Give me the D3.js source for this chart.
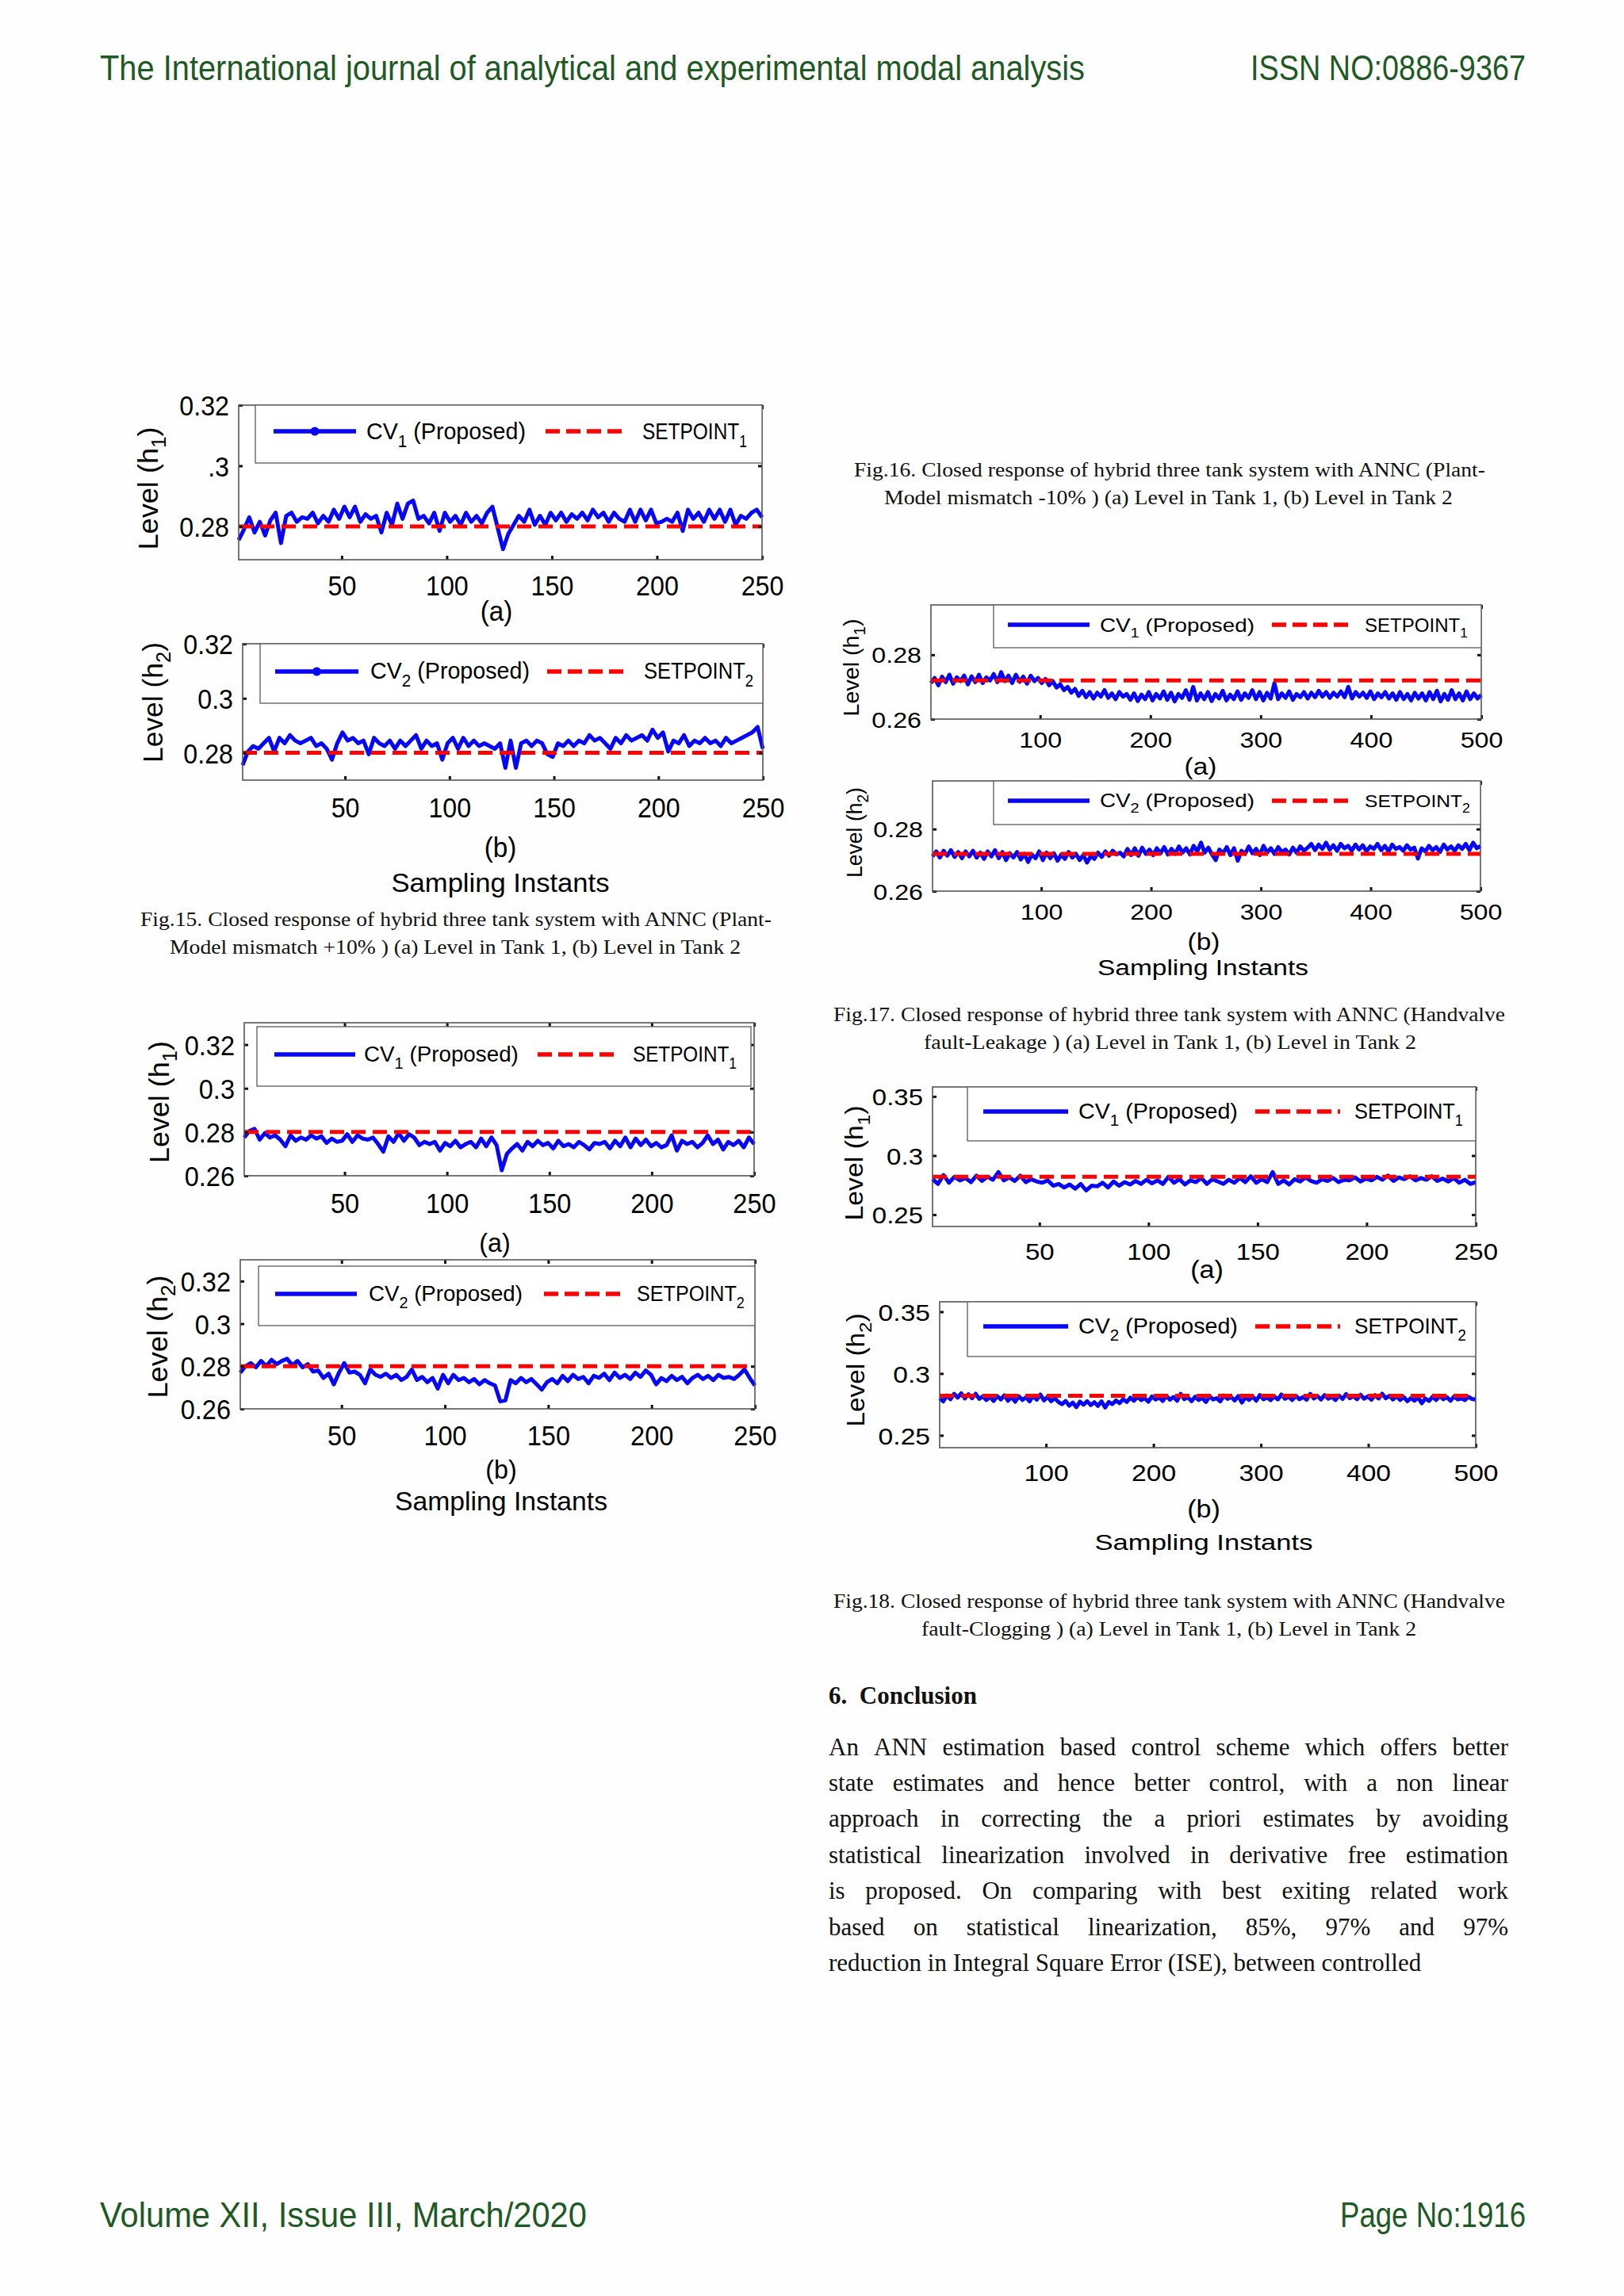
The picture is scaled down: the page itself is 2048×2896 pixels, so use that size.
<!DOCTYPE html>
<html><head><meta charset="utf-8">
<script src="https://cdn.jsdelivr.net/npm/d3@7"></script>
<style>html,body{margin:0;padding:0;background:#fff;}svg{display:block;}</style>
</head><body>
<script>
const xTicks250 = [50, 100, 150, 200, 250];
const xTicks500 = [100, 200, 300, 400, 500];
const yTicks15a = [0.28, 0.30, 0.32];            const yTickLabels15a = ["0.28", ".3", "0.32"];
const yTicks15b = [0.28, 0.30, 0.32];            const yTickLabels15b = ["0.28", "0.3", "0.32"];
const yTicks16  = [0.26, 0.28];                  const yTickLabels16  = ["0.26", "0.28"];
const yTicks17  = [0.26, 0.28, 0.30, 0.32];      const yTickLabels17  = ["0.26", "0.28", "0.3", "0.32"];
const yTicks18  = [0.25, 0.30, 0.35];            const yTickLabels18  = ["0.25", "0.3", "0.35"];

const setpoint15 = 0.28, setpoint16 = 0.272, setpoint17 = 0.28, setpoint18 = 0.282;

// Fig.15 (+10% mismatch), 250 samples
const fig15a_cv1 = [.2755,.279,.283,.278,.2815,.277,.282,.2845,.2745,.2835,.2845,.2815,.283,.2825,.2845,.281,.2835,.2815,.2855,.2825,
 .2865,.283,.2865,.2815,.284,.2825,.2835,.278,.2845,.2805,.2875,.2825,.2875,.2885,.2825,.2835,.281,.2845,.2785,.2845,
 .2815,.2835,.2805,.2845,.2815,.2835,.281,.2845,.2865,.2795,.2725,.2775,.2805,.2835,.2815,.2855,.2805,.2835,.2805,.2845,
 .282,.2845,.2815,.284,.2825,.2845,.282,.2855,.283,.2845,.2815,.2845,.2825,.2815,.2855,.2815,.2855,.282,.2855,.281,
 .2815,.2825,.2815,.2845,.2785,.2855,.2825,.2845,.2815,.2855,.2825,.2855,.2815,.2855,.2805,.2835,.2825,.2845,.2855,.283];
const fig15b_cv2 = [.2755,.2805,.2825,.2815,.2835,.2855,.2805,.2855,.2835,.2865,.2845,.2835,.2845,.2855,.2825,.2835,.2815,.2775,.2835,.2875,
 .2845,.2855,.2835,.2845,.2795,.2855,.2835,.2825,.2845,.2815,.2845,.2825,.2845,.2865,.2815,.2845,.2825,.2835,.2775,.2835,
 .2855,.2815,.2855,.2825,.2845,.2825,.2835,.2825,.2815,.2835,.2745,.2845,.2745,.2835,.2845,.2825,.2845,.2835,.2795,.2785,
 .2835,.2825,.2845,.2825,.2845,.2835,.2865,.2845,.2855,.2835,.2815,.2855,.2835,.2865,.2845,.2855,.2865,.2845,.2885,.2855,
 .2875,.2805,.2845,.2835,.2865,.2825,.2845,.2835,.2855,.2835,.2845,.2825,.2855,.2835,.2845,.2855,.2865,.2875,.2895,.2815];

// Fig.16 (-10% mismatch), 500 samples
const fig16a_cv1 = [.2712,.2728,.2705,.2732,.2715,.2738,.2710,.2730,.2718,.2735,
 .2708,.2733,.2715,.2738,.2712,.2730,.2720,.2740,.2715,.2746,
 .2718,.2735,.2712,.2738,.2716,.2732,.2710,.2735,.2718,.2728,
 .2712,.2725,.2705,.2718,.2698,.2708,.2690,.2700,.2682,.2694,
 .2672,.2688,.2668,.2684,.2664,.2682,.2670,.2690,.2666,.2680,.2662,.2684,.2670,.2678,
 .2660,.2680,.2656,.2676,.2662,.2684,.2658,.2678,.2664,.2686,
 .2660,.2682,.2655,.2678,.2666,.2690,.2660,.2700,.2658,.2680,
 .2662,.2684,.2656,.2678,.2664,.2688,.2658,.2676,.2662,.2686,
 .2660,.2680,.2666,.2690,.2662,.2684,.2658,.2682,.2664,.2712,
 .2662,.2680,.2666,.2686,.2660,.2678,.2668,.2684,.2664,.2682,
 .2668,.2688,.2670,.2684,.2666,.2682,.2670,.2686,.2668,.2700,
 .2664,.2684,.2670,.2682,.2666,.2686,.2662,.2680,.2668,.2684,
 .2664,.2680,.2660,.2684,.2662,.2678,.2658,.2682,.2664,.2680,
 .2658,.2684,.2662,.2688,.2655,.2678,.2660,.2690,.2662,.2680,
 .2658,.2686,.2662,.2680,.2664,.2675];
const fig16b_cv2 = [.2712,.2728,.2708,.2730,.2714,.2732,.2710,.2726,.2706,.2728,
 .2712,.2730,.2708,.2724,.2704,.2728,.2712,.2732,.2706,.2726,
 .2700,.2722,.2708,.2726,.2702,.2720,.2694,.2718,.2706,.2728,
 .2700,.2724,.2706,.2722,.2698,.2718,.2704,.2726,.2708,.2720,
 .2700,.2716,.2692,.2712,.2704,.2724,.2710,.2728,.2714,.2730,.2718,
 .2724,.2712,.2736,.2716,.2738,.2714,.2740,.2720,.2734,.2716,
 .2738,.2722,.2742,.2718,.2736,.2720,.2744,.2724,.2738,.2718,
 .2746,.2728,.2756,.2724,.2740,.2718,.2700,.2734,.2722,.2742,
 .2716,.2738,.2698,.2730,.2720,.2744,.2722,.2736,.2716,.2746,
 .2724,.2738,.2720,.2742,.2726,.2734,.2718,.2740,.2724,.2744,.2730,
 .2740,.2752,.2732,.2750,.2736,.2756,.2734,.2748,.2730,.2752,
 .2738,.2746,.2730,.2750,.2734,.2748,.2728,.2744,.2736,.2752,
 .2732,.2746,.2728,.2750,.2736,.2742,.2730,.2748,.2734,.2740,
 .2705,.2738,.2728,.2746,.2732,.2742,.2726,.2750,.2734,.2744,
 .2730,.2748,.2736,.2752,.2732,.2756,.2738,.2745];

// Fig.17 (leakage), 250 samples
const fig17a_cv1 = [.2775,.2805,.2815,.2765,.2795,.2775,.2785,.2765,.2735,.2785,
 .2760,.2775,.2765,.2785,.2770,.2780,.2750,.2770,.2755,.2760,
 .2790,.2755,.2785,.2770,.2765,.2775,.2745,.2710,.2780,.2755,
 .2795,.2760,.2790,.2775,.2740,.2755,.2745,.2755,.2715,.2750,
 .2735,.2760,.2730,.2745,.2755,.2730,.2770,.2735,.2775,.2740,
 .2625,.2700,.2725,.2745,.2715,.2755,.2735,.2760,.2740,.2750,
 .2725,.2760,.2735,.2745,.2730,.2755,.2740,.2720,.2750,.2745,
 .2755,.2725,.2760,.2735,.2775,.2730,.2770,.2740,.2765,.2735,
 .2750,.2730,.2740,.2785,.2715,.2760,.2745,.2755,.2730,.2750,
 .2785,.2745,.2765,.2720,.2755,.2740,.2760,.2730,.2775,.2745];
const fig17b_cv2 = [.2770,.2800,.2815,.2795,.2825,.2800,.2830,.2810,.2825,.2835,
 .2805,.2825,.2795,.2810,.2775,.2780,.2745,.2765,.2715,.2770,
 .2815,.2770,.2775,.2760,.2720,.2785,.2760,.2750,.2765,.2745,
 .2760,.2735,.2750,.2785,.2735,.2750,.2725,.2745,.2695,.2760,
 .2720,.2760,.2735,.2745,.2725,.2740,.2715,.2735,.2720,.2710,
 .2635,.2640,.2735,.2720,.2745,.2725,.2740,.2715,.2690,.2725,
 .2740,.2720,.2755,.2730,.2760,.2740,.2750,.2720,.2755,.2745,
 .2765,.2735,.2770,.2745,.2760,.2740,.2770,.2750,.2780,.2760,
 .2715,.2745,.2730,.2755,.2735,.2750,.2720,.2745,.2760,.2740,
 .2755,.2735,.2760,.2745,.2750,.2740,.2760,.2785,.2745,.2710];

// Fig.18 (clogging): (a) 250 samples, (b) 500 samples
const fig18a_cv1 = [.2800,.2760,.2835,.2770,.2820,.2790,.2810,.2775,.2830,.2785,
 .2820,.2795,.2860,.2790,.2815,.2785,.2830,.2775,.2800,.2780,
 .2770,.2790,.2745,.2760,.2730,.2755,.2720,.2760,.2705,.2745,
 .2740,.2770,.2730,.2780,.2745,.2775,.2755,.2785,.2760,.2795,
 .2765,.2790,.2760,.2820,.2770,.2800,.2755,.2790,.2775,.2810,
 .2760,.2800,.2780,.2760,.2795,.2770,.2810,.2775,.2825,.2770,
 .2800,.2775,.2860,.2760,.2790,.2755,.2800,.2780,.2815,.2785,
 .2770,.2800,.2785,.2810,.2775,.2795,.2790,.2815,.2780,.2805,
 .2790,.2820,.2795,.2830,.2785,.2815,.2800,.2825,.2790,.2810,
 .2795,.2825,.2785,.2805,.2780,.2810,.2770,.2795,.2760,.2775];
const fig18b_cv2 = [.2800,.2775,.2822,.2792,.2836,.2805,.2840,.2798,.2832,.2800,.2836,.2795,
 .2815,.2785,.2812,.2778,.2818,.2790,.2824,.2780,.2810,.2772,.2816,.2786,.2808,.2775,.2820,.2788,.2830,.2782,.2812,.2776,.2800,
 .2770,.2752,.2778,.2740,.2765,.2728,.2772,.2748,.2776,.2745,.2768,.2738,.2774,.2725,.2770,.2752,.2782,.2760,
 .2792,.2770,.2805,.2780,.2812,.2785,.2800,.2772,.2815,.2790,
 .2806,.2778,.2820,.2788,.2810,.2780,.2835,.2792,.2808,.2776,
 .2812,.2785,.2804,.2770,.2816,.2790,.2800,.2774,.2822,.2795,
 .2810,.2782,.2818,.2765,.2808,.2786,.2814,.2780,.2826,.2792,
 .2806,.2784,.2815,.2790,.2830,.2796,.2812,.2786,.2820,.2792,
 .2810,.2788,.2836,.2798,.2818,.2790,.2826,.2796,.2812,.2785,
 .2822,.2794,.2834,.2800,.2818,.2792,.2828,.2796,.2815,.2788,
 .2825,.2798,.2836,.2800,.2820,.2790,.2816,.2786,.2810,.2776,
 .2802,.2780,.2806,.2760,.2798,.2778,.2812,.2786,.2820,.2792,
 .2808,.2780,.2815,.2790,.2800,.2785,.2812,.2794,.2790];

// ---------------- TEXT ----------------
const headerLeft = "The International journal of analytical and experimental modal analysis";
const headerRight = "ISSN NO:0886-9367";
const footerLeft = "Volume XII, Issue III, March/2020";
const footerRight = "Page No:1916";
const captions = [
  ["Fig.15. Closed response of hybrid three tank system with ANNC (Plant-", "Model mismatch +10% ) (a) Level in Tank 1, (b) Level in Tank 2"],
  ["Fig.16. Closed response of hybrid three tank system with ANNC (Plant-", "Model mismatch -10% ) (a) Level in Tank 1, (b) Level in Tank 2"],
  ["Fig.17. Closed response of hybrid three tank system with ANNC (Handvalve", "fault-Leakage ) (a) Level in Tank 1, (b) Level in Tank 2"],
  ["Fig.18. Closed response of hybrid three tank system with ANNC (Handvalve", "fault-Clogging ) (a) Level in Tank 1, (b) Level in Tank 2"]
];
const conclusionTitle = "6.  Conclusion";
const conclusionLines = [
  "An ANN estimation based control scheme which offers better",
  "state estimates and hence better control, with a non linear",
  "approach in correcting the a priori estimates by avoiding",
  "statistical linearization involved in derivative free estimation",
  "is proposed. On comparing with best exiting related work",
  "based on statistical linearization, 85%, 97% and 97%",
  "reduction in Integral Square Error (ISE), between controlled"
];

// ---------------- LAYOUT ----------------
const panels = [
 {series: fig15a_cv1, n:250, sp:setpoint15, sub:"1", box:[301,961,511,706], yDomain:[0.269,0.32], xTicks:xTicks250, yTicks:yTicks15a, yLabels:yTickLabels15a,
  tick:{fs:35, sx:0.92, y:738}, letter:{t:"(a)", x:626, y:770, fs:35, sx:0.95}, ylab:{x:186, y:616, fs:35, len:155},
  leg:{box:[322,961,511,584], line:[345,449], ly:544, base:554, fs:30, cv:[462,663], sp:[688,784], spt:[810,942], marker:true}},
 {series: fig15b_cv2, n:250, sp:setpoint15, sub:"2", box:[306,962,812,984], yDomain:[0.27,0.32], xTicks:xTicks250, yTicks:yTicks15b, yLabels:yTickLabels15b,
  tick:{fs:35, sx:0.92, y:1018}, letter:{t:"(b)", x:631, y:1068, fs:35, sx:0.95}, ylab:{x:192, y:886, fs:35, len:152},
  leg:{box:[328,962,812,887], line:[347,452], ly:847, base:856, fs:30, cv:[467,668], sp:[690,792], spt:[812,950], marker:true},
  samp:{x:631, y:1113, fs:34, len:275}},
 {series: fig16a_cv1, n:500, sp:setpoint16, sub:"1", box:[1174,1868,763,907], yDomain:[0.26,0.2955], xTicks:xTicks500, yTicks:yTicks16, yLabels:yTickLabels16,
  tick:{fs:28, sx:1.15, y:933}, letter:{t:"(a)", x:1514, y:967, fs:29, sx:1.15}, ylab:{x:1073, y:842, fs:28, len:123},
  leg:{box:[1253,1868,763,817], line:[1271,1374], ly:788, base:797, fs:23, cv:[1387,1582], sp:[1604,1702], spt:[1721,1851]}},
 {series: fig16b_cv2, n:500, sp:setpoint16, sub:"2", box:[1176,1867,985,1124], yDomain:[0.26,0.2955], xTicks:xTicks500, yTicks:yTicks16, yLabels:yTickLabels16,
  tick:{fs:28, sx:1.15, y:1150}, letter:{t:"(b)", x:1518, y:1188, fs:29, sx:1.15}, ylab:{x:1077, y:1050, fs:28, len:114},
  leg:{box:[1253,1867,985,1040], line:[1271,1374], ly:1010, base:1018, fs:23, cv:[1387,1582], sp:[1604,1702], spt:[1721,1854]},
  samp:{x:1517, y:1220, fs:27, len:266}},
 {series: fig17a_cv1, n:250, sp:setpoint17, sub:"1", box:[308,951,1290,1483], yDomain:[0.26,0.33], xTicks:xTicks250, yTicks:yTicks17, yLabels:yTickLabels17,
  tick:{fs:35, sx:0.93, y:1517}, letter:{t:"(a)", x:624, y:1567, fs:34, sx:0.95}, ylab:{x:200, y:1390, fs:35, len:154},
  leg:{box:[324,947,1295,1370], line:[346,448], ly:1330, base:1339, fs:28, cv:[459,654], sp:[678,777], spt:[798,929]}},
 {series: fig17b_cv2, n:250, sp:setpoint17, sub:"2", box:[303,952,1589,1777], yDomain:[0.26,0.33], xTicks:xTicks250, yTicks:yTicks17, yLabels:yTickLabels17,
  tick:{fs:35, sx:0.93, y:1810}, letter:{t:"(b)", x:632, y:1853, fs:34, sx:0.95}, ylab:{x:198, y:1686, fs:35, len:155},
  leg:{box:[326,952,1597,1672], line:[347,450], ly:1632, base:1641, fs:28, cv:[465,659], sp:[686,783], spt:[803,939]},
  samp:{x:632, y:1893, fs:34, len:268}},
 {series: fig18a_cv1, n:250, sp:setpoint18, sub:"1", box:[1176,1861,1371,1547], yDomain:[0.24,0.358], xTicks:xTicks250, yTicks:yTicks18, yLabels:yTickLabels18,
  tick:{fs:30, sx:1.1, y:1578}, letter:{t:"(a)", x:1522, y:1601, fs:31, sx:1.1}, ylab:{x:1077, y:1467, fs:31, len:145},
  leg:{box:[1220,1861,1371,1439], line:[1240,1347], ly:1402, base:1411, fs:27, cv:[1360,1561], sp:[1583,1690], spt:[1708,1845]}},
 {series: fig18b_cv2, n:500, sp:setpoint18, sub:"2", box:[1185,1861,1642,1826], yDomain:[0.24,0.358], xTicks:xTicks500, yTicks:yTicks18, yLabels:yTickLabels18,
  tick:{fs:30, sx:1.12, y:1857}, letter:{t:"(b)", x:1518, y:1903, fs:31, sx:1.1}, ylab:{x:1079, y:1728, fs:31, len:143},
  leg:{box:[1220,1861,1642,1711], line:[1240,1347], ly:1673, base:1682, fs:27, cv:[1360,1561], sp:[1583,1690], spt:[1708,1849]},
  samp:{x:1518, y:1945, fs:28, len:275}}
];
const captionPos = [
  {x:[177,973], y:[1168,1203]}, {x:[1077,1873], y:[601,636]},
  {x:[1051,1898], y:[1288,1323]}, {x:[1051,1898], y:[2028,2063]}
];
const captionLine2 = [[214,934],[1115,1832],[1165,1786],[1162,1786]];

// ---------------- DRAW ----------------
const SANS = "'Liberation Sans', Arial, Helvetica, sans-serif";
const SERIF = "'Liberation Serif', 'Times New Roman', Times, serif";
const BLUE = "#0707f5", RED = "#ff0000";

const svg = d3.select("body").append("svg").attr("width", 2048).attr("height", 2896);
svg.append("rect").attr("width", 2048).attr("height", 2896).attr("fill", "#fefefe");

function stretch(sel, sx) {
  sel.each(function () {
    const w = this.getComputedTextLength();
    if (w > 0 && Math.abs(sx - 1) > 1e-3) d3.select(this).attr("textLength", w * sx).attr("lengthAdjust", "spacingAndGlyphs");
  });
}
function fit(sel, len) { sel.attr("textLength", len).attr("lengthAdjust", "spacingAndGlyphs"); }
// text with sub-tspans: scale the whole element horizontally to a target width
function scaleTo(t, x, y, len, rot) {
  const w = t.node().getBBox().width;
  const s = w > 0 ? len / w : 1;
  t.attr("transform", `translate(${x},${y})${rot ? " rotate(-90)" : ""} scale(${s},1)`);
}

panels.forEach(p => {
  const [L, R, T, B] = p.box;
  const x = d3.scaleLinear().domain([1, p.n]).range([L, R]);
  const y = d3.scaleLinear().domain(p.yDomain).range([B, T]);
  const g = svg.append("g");
  g.append("rect").attr("x", L).attr("y", T).attr("width", R - L).attr("height", B - T).attr("fill", "#fff");

  const step = (p.n - 1) / (p.series.length - 1);
  const cvLine = d3.line().x((d, i) => x(1 + i * step)).y(d => y(d));
  g.append("path").datum(p.series).attr("d", cvLine).attr("fill", "none")
    .attr("stroke", BLUE).attr("stroke-width", 5).attr("stroke-linejoin", "round");
  g.append("path").datum([1, p.n]).attr("d", d3.line().x(d => x(d)).y(() => y(p.sp)))
    .attr("fill", "none").attr("stroke", RED).attr("stroke-width", 5).attr("stroke-dasharray", "18,9");

  // axes (MATLAB-like inward ticks)
  const fmtY = d => p.yLabels[p.yTicks.indexOf(d)];
  const ax = g.append("g").attr("transform", `translate(0,${B})`)
    .call(d3.axisBottom(x).tickValues(p.xTicks).tickSize(-5).tickFormat(d3.format("d")));
  const ay = g.append("g").attr("transform", `translate(${L},0)`)
    .call(d3.axisLeft(y).tickValues(p.yTicks).tickSize(-5).tickPadding(12).tickFormat(fmtY));
  const at = g.append("g").attr("transform", `translate(0,${T})`)
    .call(d3.axisTop(x).tickValues(p.xTicks).tickSize(-5).tickFormat(""));
  const ar = g.append("g").attr("transform", `translate(${R},0)`)
    .call(d3.axisRight(y).tickValues(p.yTicks).tickSize(-5).tickFormat(""));
  [ax, ay, at, ar].forEach(a => {
    a.select(".domain").remove();
    a.selectAll(".tick line").attr("stroke", "#111").attr("stroke-width", 3);
  });
  at.selectAll("text").remove(); ar.selectAll("text").remove();
  ax.selectAll("text").attr("y", p.tick.y - B).attr("dy", "0.36em")
    .attr("font-size", p.tick.fs).attr("font-family", SANS).attr("fill", "#000");
  ay.selectAll("text").attr("dy", "0.36em")
    .attr("font-size", p.tick.fs).attr("font-family", SANS).attr("fill", "#000");
  stretch(ax.selectAll("text"), p.tick.sx);
  stretch(ay.selectAll("text"), p.tick.sx);

  g.append("rect").attr("x", L).attr("y", T).attr("width", R - L).attr("height", B - T)
    .attr("fill", "none").attr("stroke", "#555").attr("stroke-width", 1.6);

  // legend
  const lg = p.leg;
  g.append("rect").attr("x", lg.box[0]).attr("y", lg.box[2]).attr("width", lg.box[1] - lg.box[0]).attr("height", lg.box[3] - lg.box[2])
    .attr("fill", "#fff").attr("stroke", "#666").attr("stroke-width", 1.4);
  g.append("line").attr("x1", lg.line[0]).attr("x2", lg.line[1]).attr("y1", lg.ly).attr("y2", lg.ly)
    .attr("stroke", BLUE).attr("stroke-width", 5.5);
  if (lg.marker) g.append("circle").attr("cx", (lg.line[0] + lg.line[1]) / 2).attr("cy", lg.ly).attr("r", 5.5).attr("fill", BLUE);
  g.append("line").attr("x1", lg.sp[0]).attr("x2", lg.sp[1]).attr("y1", lg.ly).attr("y2", lg.ly)
    .attr("stroke", RED).attr("stroke-width", 5.5).attr("stroke-dasharray", "18,8");
  const t1 = g.append("text").attr("font-size", lg.fs).attr("font-family", SANS).attr("fill", "#000");
  t1.append("tspan").text("CV");
  t1.append("tspan").attr("font-size", lg.fs * 0.72).attr("dy", lg.fs * 0.32).text(p.sub);
  t1.append("tspan").attr("dy", -lg.fs * 0.32).text(" (Proposed)");
  scaleTo(t1, lg.cv[0], lg.base, lg.cv[1] - lg.cv[0]);
  const t2 = g.append("text").attr("font-size", lg.fs).attr("font-family", SANS).attr("fill", "#000");
  t2.append("tspan").text("SETPOINT");
  t2.append("tspan").attr("font-size", lg.fs * 0.72).attr("dy", lg.fs * 0.32).text(p.sub);
  scaleTo(t2, lg.spt[0], lg.base, lg.spt[1] - lg.spt[0]);

  // y label
  const yl = g.append("text").attr("text-anchor", "middle").attr("dy", "0.36em")
    .attr("font-size", p.ylab.fs).attr("font-family", SANS).attr("fill", "#000");
  yl.append("tspan").text("Level (h");
  yl.append("tspan").attr("font-size", p.ylab.fs * 0.72).attr("dy", p.ylab.fs * 0.3).text(p.sub);
  yl.append("tspan").attr("dy", -p.ylab.fs * 0.3).text(")");
  scaleTo(yl, p.ylab.x, p.ylab.y, p.ylab.len, true);

  // panel letter
  const lt = g.append("text").attr("x", p.letter.x).attr("y", p.letter.y).attr("dy", "0.36em")
    .attr("text-anchor", "middle").attr("font-size", p.letter.fs).attr("font-family", SANS).attr("fill", "#000").text(p.letter.t);
  stretch(lt, p.letter.sx);

  if (p.samp) {
    const st = g.append("text").attr("x", p.samp.x).attr("y", p.samp.y).attr("dy", "0.36em")
      .attr("text-anchor", "middle").attr("font-size", p.samp.fs).attr("font-family", SANS).attr("fill", "#000").text("Sampling Instants");
    fit(st, p.samp.len);
  }
});

// captions
captions.forEach((c, i) => {
  const pos = captionPos[i];
  const a = svg.append("text").attr("x", pos.x[0]).attr("y", pos.y[0]).attr("font-size", 26).attr("font-family", SERIF).attr("fill", "#111").text(c[0]);
  fit(a, pos.x[1] - pos.x[0]);
  const b = svg.append("text").attr("x", captionLine2[i][0]).attr("y", pos.y[1]).attr("font-size", 26).attr("font-family", SERIF).attr("fill", "#111").text(c[1]);
  fit(b, captionLine2[i][1] - captionLine2[i][0]);
});

// header / footer
const GREEN = "#1f5a25";
fit(svg.append("text").attr("x", 126).attr("y", 101).attr("font-size", 44).attr("font-family", SANS).attr("fill", GREEN).text(headerLeft), 1242);
fit(svg.append("text").attr("x", 1577).attr("y", 101).attr("font-size", 44).attr("font-family", SANS).attr("fill", GREEN).text(headerRight), 347);
fit(svg.append("text").attr("x", 126).attr("y", 2809).attr("font-size", 44).attr("font-family", SANS).attr("fill", GREEN).text(footerLeft), 614);
fit(svg.append("text").attr("x", 1690).attr("y", 2809).attr("font-size", 44).attr("font-family", SANS).attr("fill", GREEN).text(footerRight), 234);

// conclusion
svg.append("text").attr("x", 1045).attr("y", 2149).attr("font-size", 31).attr("font-weight", "bold")
  .attr("font-family", SERIF).attr("fill", "#111").style("white-space", "pre").text(conclusionTitle);
const lineBase = [2214, 2259, 2304, 2350, 2395, 2441, 2486];
conclusionLines.forEach((ln, i) => {
  const words = ln.split(" ");
  const t = svg.append("text").attr("y", lineBase[i]).attr("font-size", 31).attr("font-family", SERIF).attr("fill", "#111");
  const spans = words.map(w => t.append("tspan").text(w));
  const widths = spans.map(s => s.node().getComputedTextLength());
  const total = d3.sum(widths);
  const last = i === conclusionLines.length - 1;
  const gap = last ? 31 * 0.25 : (1902 - 1045 - total) / (words.length - 1);
  let xx = 1045;
  spans.forEach((s, k) => { s.attr("x", xx); xx += widths[k] + gap; });
});
</script>
</body></html>
